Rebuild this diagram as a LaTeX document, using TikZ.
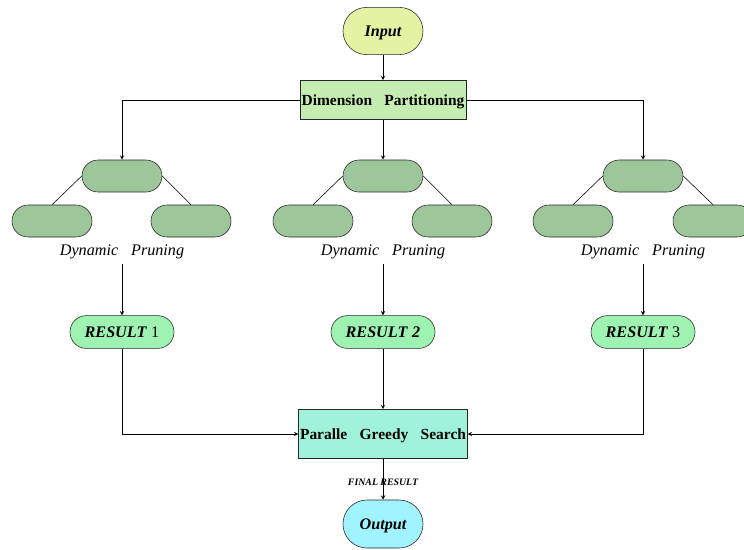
\documentclass[tikz,border=0pt]{standalone}
\usepackage{fontspec}
\setmainfont{Liberation Serif}
\usetikzlibrary{arrows}

\definecolor{inputfill}{HTML}{E4F3A3}
\definecolor{dimfill}{HTML}{C6EDB1}
\definecolor{treefill}{HTML}{9DC69B}
\definecolor{resfill}{HTML}{9FF3B2}
\definecolor{searchfill}{HTML}{A0F2DA}
\definecolor{outfill}{HTML}{A0F4FF}

\begin{document}
\begin{tikzpicture}[>=stealth,
		term/.style={rectangle,rounded corners=0.59cm,draw=black!85,minimum width=2cm,minimum height=1.18cm,inner sep=1pt,text depth=0pt,font=\fontsize{11.5}{13}\selectfont\bfseries\itshape},
		stage/.style={rectangle,draw=black!85,minimum width=4.15cm,inner sep=1pt,text depth=0pt,font=\fontsize{11}{13}\selectfont\bfseries},
		leaf/.style={rectangle,rounded corners=0.4cm,draw=black!85,fill=treefill,minimum width=2cm,minimum height=0.8cm},
		result/.style={rectangle,rounded corners=0.41cm,draw=black!85,fill=resfill,minimum width=2.6cm,minimum height=0.82cm,font=\fontsize{11.5}{13}\selectfont\bfseries\itshape},
		prune/.style={font=\fontsize{11.5}{13}\selectfont\itshape}]
	\useasboundingbox (0,0) rectangle (18.6,-13.725);
	\draw (9.575,-0.775) node [term,fill=inputfill] (input) {Input};
	\draw (9.575,-2.5) node [stage,fill=dimfill,minimum height=0.975cm] (dim) {Dimension\hspace{0.8em}Partitioning};
	% three pruning trees
	\draw (3.05,-4.4) node [leaf] (t1) {};
	\draw (1.3,-5.525) node [leaf] (l1) {};
	\draw (4.775,-5.525) node [leaf] (r1) {};
	\draw (3.05,-6.3) node [prune] (p1) {Dynamic\hspace{0.8em}Pruning};
	\draw (9.575,-4.4) node [leaf] (t2) {};
	\draw (7.825,-5.525) node [leaf] (l2) {};
	\draw (11.3,-5.525) node [leaf] (r2) {};
	\draw (9.575,-6.3) node [prune] (p2) {Dynamic\hspace{0.8em}Pruning};
	\draw (16.075,-4.4) node [leaf] (t3) {};
	\draw (14.325,-5.525) node [leaf] (l3) {};
	\draw (17.825,-5.525) node [leaf] (r3) {};
	\draw (16.075,-6.3) node [prune] (p3) {Dynamic\hspace{0.8em}Pruning};
	\draw (3.05,-8.3) node [result] (res1) {RESULT\hspace{0.3em}{\upshape\mdseries 1}};
	\draw (9.575,-8.3) node [result] (res2) {RESULT\hspace{0.3em}2};
	\draw (16.075,-8.3) node [result] (res3) {RESULT\hspace{0.3em}{\upshape\mdseries 3}};
	\draw (9.575,-10.85) node [stage,fill=searchfill,minimum height=1.225cm] (search) {Paralle\hspace{0.8em}Greedy\hspace{0.8em}Search};
	\draw (9.575,-13.1) node [term,fill=outfill,minimum height=1.2cm,rounded corners=0.6cm] (output) {Output};
	\path[->]
		(input) edge (dim)
		(dim) edge (t2)
		(p1) edge (res1)
		(p2) edge (res2)
		(p3) edge (res3)
		(res2) edge (search)
		(search) edge node [pos=0.58,inner sep=1pt,font=\fontsize{7}{8}\selectfont\bfseries\itshape] {FINAL RESULT} (output);
	\path
		(t1.west) edge (l1.north)
		(t1.east) edge (r1.north)
		(t2.west) edge (l2.north)
		(t2.east) edge (r2.north)
		(t3.west) edge (l3.north)
		(t3.east) edge (r3.north);
	\draw[->] (dim.west) -| (t1);
	\draw[->] (dim.east) -| (t3);
	\draw[->] (res1) |- (search.west);
	\draw[->] (res3) |- (search.east);
\end{tikzpicture}
\end{document}
